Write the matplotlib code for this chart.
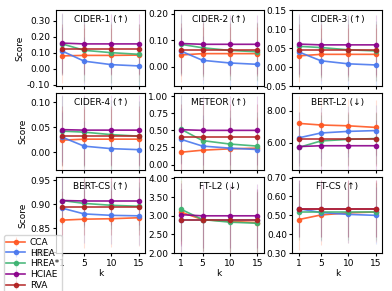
import matplotlib
matplotlib.use("Agg")
import matplotlib.pyplot as plt
import numpy as np

k = [1, 5, 10, 15]
models = ["CCA", "HREA", "HREA*", "HCIAE", "RVA"]
colors = ["#ff5722", "#4a78ee", "#3cb371", "#8b008b", "#b22222"]

titles = ["CIDER-1 (↑)", "CIDER-2 (↑)", "CIDER-3 (↑)",
          "CIDER-4 (↑)", "METEOR (↑)", "BERT-L2 (↓)",
          "BERT-CS (↑)", "FT-L2 (↓)", "FT-CS (↑)"]

cider1 = [[0.080, 0.083, 0.083, 0.085], [0.110, 0.047, 0.025, 0.017],
          [0.155, 0.115, 0.100, 0.090], [0.160, 0.155, 0.155, 0.155],
          [0.120, 0.120, 0.120, 0.120]]
cider2 = [[0.045, 0.050, 0.050, 0.050], [0.060, 0.025, 0.015, 0.010],
          [0.085, 0.072, 0.062, 0.057], [0.088, 0.085, 0.085, 0.085],
          [0.065, 0.065, 0.065, 0.065]]
cider3 = [[0.030, 0.034, 0.034, 0.034], [0.040, 0.017, 0.009, 0.006],
          [0.055, 0.052, 0.046, 0.043], [0.061, 0.059, 0.059, 0.059],
          [0.045, 0.045, 0.045, 0.045]]
cider4 = [[0.024, 0.026, 0.026, 0.026], [0.030, 0.012, 0.007, 0.005],
          [0.042, 0.040, 0.035, 0.032], [0.045, 0.044, 0.044, 0.044],
          [0.033, 0.033, 0.033, 0.033]]
meteor = [[0.18, 0.21, 0.23, 0.24], [0.37, 0.27, 0.24, 0.22],
          [0.52, 0.35, 0.30, 0.27], [0.51, 0.50, 0.50, 0.50],
          [0.40, 0.40, 0.40, 0.40]]
bert_l2 = [[7.20, 7.10, 7.05, 6.95], [6.30, 6.60, 6.70, 6.75],
           [5.70, 6.10, 6.20, 6.25], [5.75, 5.80, 5.80, 5.80],
           [6.20, 6.20, 6.20, 6.20]]
bert_cs = [[0.867, 0.869, 0.870, 0.872], [0.892, 0.880, 0.877, 0.876],
           [0.908, 0.902, 0.898, 0.896], [0.908, 0.907, 0.907, 0.907],
           [0.895, 0.895, 0.895, 0.895]]
ft_l2 = [[3.10, 2.90, 2.85, 2.82], [2.88, 2.88, 2.88, 2.88],
         [3.18, 2.90, 2.83, 2.80], [3.03, 3.00, 3.00, 3.00],
         [2.88, 2.88, 2.88, 2.88]]
ft_cs = [[0.478, 0.502, 0.513, 0.518], [0.535, 0.515, 0.505, 0.500],
         [0.520, 0.520, 0.520, 0.520], [0.535, 0.535, 0.535, 0.535],
         [0.535, 0.535, 0.535, 0.535]]

# standard deviations per metric (per model)
errs = [[0.17, 0.15, 0.19, 0.19, 0.16],
        [0.10, 0.09, 0.11, 0.11, 0.10],
        [0.07, 0.06, 0.08, 0.08, 0.07],
        [0.06, 0.05, 0.07, 0.07, 0.06],
        [0.45, 0.45, 0.50, 0.50, 0.48],
        [1.70, 1.60, 1.60, 1.60, 1.70],
        [0.06, 0.06, 0.05, 0.05, 0.06],
        [0.85, 0.85, 0.85, 0.85, 0.85],
        [0.16, 0.15, 0.15, 0.15, 0.15]]

data = [cider1, cider2, cider3, cider4, meteor, bert_l2, bert_cs, ft_l2, ft_cs]
ylims = [(-0.11, 0.37), (-0.072, 0.215), (-0.05, 0.152),
         (-0.035, 0.118), (-0.075, 1.045), (4.3, 9.1),
         (0.798, 0.958), (2.0, 4.05), (0.30, 0.705)]
yticks = [[-0.10, 0.00, 0.10, 0.20, 0.30], [0.00, 0.10, 0.20],
          [-0.05, 0.00, 0.05, 0.10, 0.15], [0.00, 0.05, 0.10],
          [0.00, 0.25, 0.50, 0.75, 1.00], [6.00, 8.00],
          [0.80, 0.85, 0.90, 0.95], [2.00, 2.50, 3.00, 3.50, 4.00],
          [0.30, 0.40, 0.50, 0.60, 0.70]]

fig = plt.figure(figsize=(3.92, 2.91), dpi=100)
gs = fig.add_gridspec(3, 3, left=0.142, right=0.975, top=0.967, bottom=0.13,
                      wspace=0.32, hspace=0.09)
axes = []
for i in range(9):
    r, c = divmod(i, 3)
    ax = fig.add_subplot(gs[r, c], sharex=axes[0] if axes else None)
    axes.append(ax)
    handles = []
    for m, (name, col) in enumerate(zip(models, colors)):
        h = ax.errorbar(k, data[i][m], yerr=errs[i][m], color=col, marker="o",
                        markersize=3, linewidth=1.2, elinewidth=0.8,
                        ecolor=col, alpha=0.9, label=name)
        for coll in h[2]:
            coll.set_alpha(0.18)
        handles.append(h)
    ax.set_ylim(*ylims[i])
    ax.set_yticks(yticks[i])
    ax.yaxis.set_major_formatter(matplotlib.ticker.FormatStrFormatter("%.2f"))
    ax.set_xticks(k)
    ax.set_xlim(-0.2, 16.2)
    ax.tick_params(labelsize=6.5, length=2.5, pad=1.5)
    ax.text(0.5, 0.93, titles[i], transform=ax.transAxes, ha="center",
            va="top", fontsize=6.5)
    if c == 0:
        ax.set_ylabel("Score", fontsize=6.5, labelpad=2)
    if r == 2:
        ax.set_xlabel("k", fontsize=6.5, labelpad=1)
    else:
        ax.tick_params(labelbottom=False)

fig.legend(handles, models, loc="lower left", bbox_to_anchor=(0.005, -0.012),
           fontsize=6.5, frameon=True, handlelength=2.0, borderpad=0.3,
           labelspacing=0.2, handletextpad=0.6, borderaxespad=0.2)

fig.savefig("out.png", dpi=100)
